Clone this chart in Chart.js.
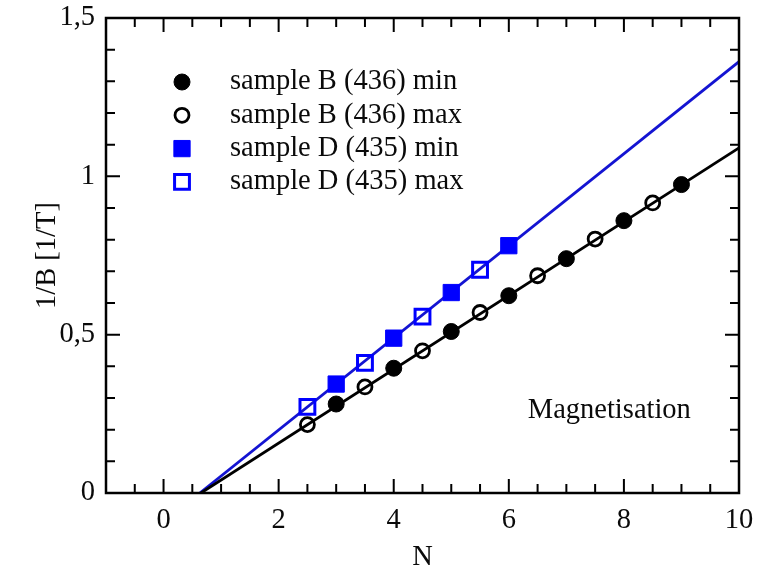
<!DOCTYPE html>
<html>
<head>
<meta charset="utf-8">
<title>1/B vs N</title>
<script src="https://cdn.jsdelivr.net/npm/chart.js@4.4.1/dist/chart.umd.min.js"></script>
<style>
  html, body { margin: 0; padding: 0; background: #fff; }
  canvas { display: block; }
</style>
</head>
<body>
<canvas id="myChart" width="782" height="568"></canvas>
<script>
var nB_min = [3, 4, 5, 6, 7, 8, 9];
var invB_B_min = [0.281, 0.394, 0.510, 0.623, 0.740, 0.860, 0.974];
var nB_max = [2.5, 3.5, 4.5, 5.5, 6.5, 7.5, 8.5];
var invB_B_max = [0.216, 0.335, 0.449, 0.570, 0.686, 0.802, 0.916];
var nD_min = [3, 4, 5, 6];
var invB_D_min = [0.344, 0.489, 0.633, 0.781];
var nD_max = [2.5, 3.5, 4.5, 5.5];
var invB_D_max = [0.272, 0.411, 0.557, 0.705];

// straight-line fits, from the N axis crossing up to N = 10
var fitB_N = [0.65, 10];
var fitB_invB = [0, 1.09];
var fitD_N = [0.63, 10];
var fitD_invB = [0, 1.362];

var xTicks = [0, 2, 4, 6, 8, 10];
var yTicks = [0, 0.5, 1, 1.5];

var serif = '"Liberation Serif", "Times New Roman", serif';
var blue = '#0000ff';
var ink = '#0a0a0a';

function pts(xs, ys) {
  return xs.map(function (x, i) { return { x: x, y: ys[i] }; });
}

// box around the plot with inward ticks on all four sides, plus the legend and the note
var frameTicks = {
  id: 'frameTicks',
  afterDatasetsDraw: function (chart) {
    var ctx = chart.ctx, a = chart.chartArea;
    var xs = chart.scales.x, ys = chart.scales.y;
    ctx.save();
    ctx.strokeStyle = '#000';
    ctx.lineWidth = 2.5;
    ctx.strokeRect(a.left, a.top, a.right - a.left, a.bottom - a.top);

    ctx.lineWidth = 2;
    ctx.beginPath();
    for (var k = -1; k <= 19; k++) {
      var vx = k * 0.5;
      if (vx <= xs.min || vx >= xs.max) continue;
      var px = xs.getPixelForValue(vx);
      var lx = (k % 4 === 0) ? 14 : 9;
      ctx.moveTo(px, a.bottom); ctx.lineTo(px, a.bottom - lx);
      ctx.moveTo(px, a.top); ctx.lineTo(px, a.top + lx);
    }
    for (var j = 1; j <= 14; j++) {
      var py = ys.getPixelForValue(j * 0.1);
      var ly = (j % 5 === 0) ? 14 : 9;
      ctx.moveTo(a.left, py); ctx.lineTo(a.left + ly, py);
      ctx.moveTo(a.right, py); ctx.lineTo(a.right - ly, py);
    }
    ctx.stroke();

    // legend
    ctx.font = '28.5px ' + serif;
    ctx.fillStyle = ink;
    ctx.textBaseline = 'middle';
    var lx0 = a.left + 76, ly0 = a.top + 64;
    for (var i = 0; i < 4; i++) {
      var ds = chart.data.datasets[i];
      var y = ly0 + i * 33.3;
      ctx.save();
      ctx.fillStyle = ds.backgroundColor;
      ctx.strokeStyle = ds.borderColor;
      ctx.lineWidth = ds.borderWidth;
      ctx.beginPath();
      if (ds.pointStyle === 'rect') {
        var s = ds.pointRadius * Math.SQRT1_2;
        ctx.rect(lx0 - s, y - s, 2 * s, 2 * s);
      } else {
        ctx.arc(lx0, y, ds.pointRadius, 0, Math.PI * 2);
      }
      ctx.fill();
      ctx.stroke();
      ctx.restore();
      ctx.textAlign = 'left';
      ctx.fillText(ds.label, lx0 + 48, y);
    }

    ctx.fillText('Magnetisation', xs.getPixelForValue(6.33), ys.getPixelForValue(0.262));
    ctx.restore();
  }
};

var ctx = document.getElementById('myChart');

var chart = new Chart(ctx, {
  type: 'scatter',
  data: {
    datasets: [{
      label: 'sample B (436) min',
      data: pts(nB_min, invB_B_min),
      pointStyle: 'circle',
      pointRadius: 8,
      backgroundColor: '#000',
      borderColor: '#000',
      borderWidth: 1
    }, {
      label: 'sample B (436) max',
      data: pts(nB_max, invB_B_max),
      pointStyle: 'circle',
      pointRadius: 7,
      backgroundColor: 'rgba(0,0,0,0)',
      borderColor: '#000',
      borderWidth: 2.8
    }, {
      label: 'sample D (435) min',
      data: pts(nD_min, invB_D_min),
      pointStyle: 'rect',
      pointRadius: 11.5,
      backgroundColor: blue,
      borderColor: blue,
      borderWidth: 1
    }, {
      label: 'sample D (435) max',
      data: pts(nD_max, invB_D_max),
      pointStyle: 'rect',
      pointRadius: 10.5,
      backgroundColor: 'rgba(0,0,0,0)',
      borderColor: blue,
      borderWidth: 3
    }, {
      label: 'fit B',
      data: pts(fitB_N, fitB_invB),
      showLine: true,
      pointRadius: 0,
      borderColor: '#000',
      borderWidth: 2.8
    }, {
      label: 'fit D',
      data: pts(fitD_N, fitD_invB),
      showLine: true,
      pointRadius: 0,
      borderColor: '#1414d2',
      borderWidth: 2.8
    }]
  },
  options: {
    responsive: false,
    animation: false,
    layout: { padding: { top: 18, right: 43, left: 0, bottom: 0 } },
    plugins: {
      legend: { display: false },
      tooltip: { enabled: false }
    },
    scales: {
      x: {
        type: 'linear',
        min: -1,
        max: 10,
        grid: { display: false, drawTicks: false },
        border: { display: false },
        afterBuildTicks: function (s) { s.ticks = xTicks.map(function (v) { return { value: v }; }); },
        afterFit: function (s) { s.height = 75; s.paddingLeft = 0; s.paddingRight = 0; },
        ticks: { padding: 10, color: ink, autoSkip: false, maxRotation: 0, font: { family: serif, size: 28.5 } },
        title: { display: true, text: 'N', color: ink, padding: 0, font: { family: serif, size: 28.5, lineHeight: 0.75 } }
      },
      y: {
        type: 'linear',
        min: 0,
        max: 1.5,
        grid: { display: false, drawTicks: false },
        border: { display: false },
        afterBuildTicks: function (s) { s.ticks = yTicks.map(function (v) { return { value: v }; }); },
        afterFit: function (s) { s.width = 106; s.paddingTop = 0; s.paddingBottom = 0; },
        ticks: {
          padding: 11, color: ink, autoSkip: false, font: { family: serif, size: 28.5 },
          callback: function (v) { return String(v).replace('.', ','); }
        },
        title: { display: true, text: '1/B [1/T]', color: ink, padding: { top: 30, bottom: 0 }, font: { family: serif, size: 28.5 } }
      }
    }
  },
  plugins: [frameTicks]
});
</script>
</body>
</html>
